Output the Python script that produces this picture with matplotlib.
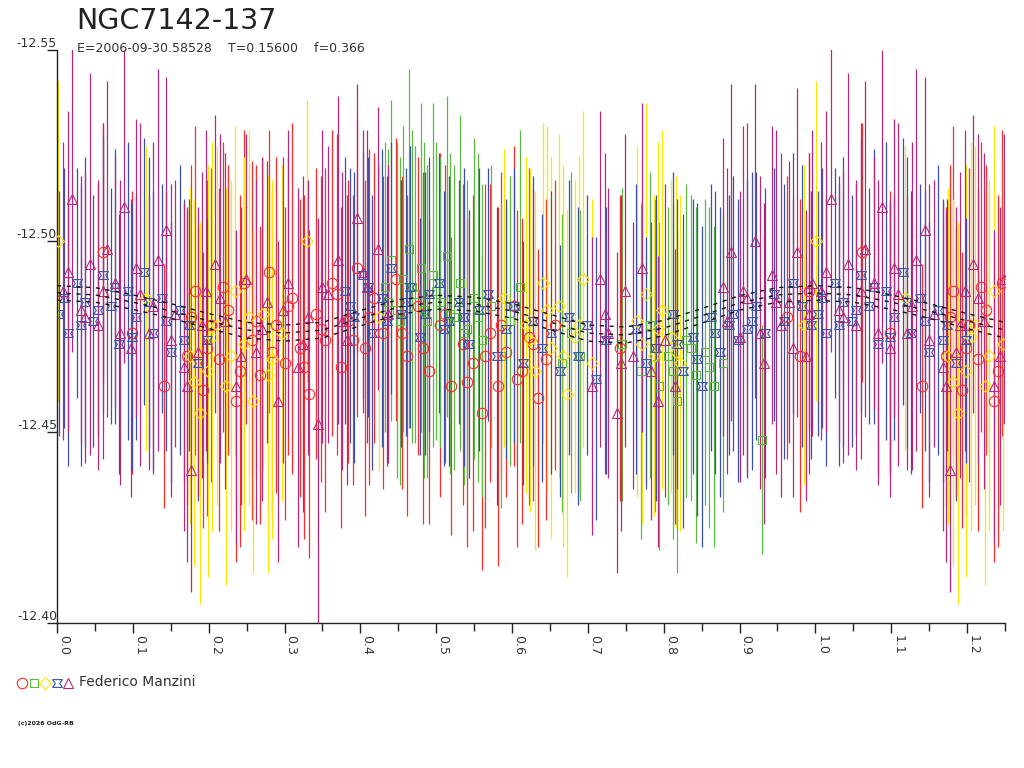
import numpy as np
import matplotlib.pyplot as plt
from matplotlib.ticker import MultipleLocator, FormatStrFormatter

# phase, magnitude, error for each observing series
red_ph = [0.061, 0.099, 0.141, 0.172, 0.182, 0.193, 0.203, 0.214, 0.225, 0.236, 0.246, 0.257, 0.268,
          0.279, 0.289, 0.300, 0.310, 0.321, 0.332, 0.342, 0.353, 0.363, 0.374, 0.384, 0.395, 0.406,
          0.418, 0.430, 0.447, 0.462, 0.476, 0.491, 0.505, 0.520, 0.535, 0.548, 0.560, 0.571, 0.581,
          0.592, 0.602, 0.613, 0.623, 0.634, 0.645, 0.657, 0.742, 0.963, 0.980, 0.992,
          0.177, 0.198, 0.219, 0.241, 0.262, 0.284, 0.305, 0.326, 0.348, 0.369, 0.390, 0.412, 0.455,
          0.483, 0.512, 0.541, 0.565, 0.586, 0.607, 0.628]
red_mag = [-12.497, -12.476, -12.462, -12.470, -12.487, -12.461, -12.478, -12.469, -12.482, -12.458,
           -12.489, -12.474, -12.465, -12.492, -12.478, -12.468, -12.485, -12.472, -12.460, -12.481,
           -12.474, -12.489, -12.467, -12.479, -12.493, -12.472, -12.485, -12.476, -12.490, -12.470,
           -12.483, -12.466, -12.478, -12.462, -12.473, -12.468, -12.455, -12.476, -12.462, -12.471,
           -12.483, -12.466, -12.475, -12.459, -12.469, -12.478, -12.472, -12.480, -12.470, -12.487,
           -12.480, -12.472, -12.488, -12.466, -12.479, -12.471, -12.483, -12.467, -12.477, -12.486,
           -12.474, -12.480, -12.476, -12.472, -12.481, -12.463, -12.470, -12.478, -12.464, -12.473]
red_err = [0.034, 0.037, 0.032, 0.039, 0.043, 0.036, 0.041, 0.045, 0.038, 0.042, 0.040, 0.047, 0.039,
           0.037, 0.044, 0.041, 0.046, 0.039, 0.043, 0.038, 0.045, 0.040, 0.042, 0.037, 0.039, 0.044,
           0.038, 0.041, 0.037, 0.042, 0.039, 0.040, 0.045, 0.039, 0.042, 0.044, 0.041, 0.039, 0.047,
           0.038, 0.042, 0.040, 0.044, 0.039, 0.042, 0.038, 0.040, 0.037, 0.041, 0.036,
           0.040, 0.044, 0.038, 0.046, 0.041, 0.043, 0.039, 0.045, 0.040, 0.042, 0.038, 0.044, 0.041,
           0.046, 0.039, 0.043, 0.045, 0.040, 0.044, 0.041]

green_ph = [0.432, 0.440, 0.448, 0.456, 0.464, 0.472, 0.480, 0.488, 0.496, 0.505, 0.514, 0.523, 0.532,
            0.541, 0.550, 0.560, 0.572, 0.585, 0.597, 0.610, 0.666, 0.678, 0.690, 0.745, 0.770, 0.782,
            0.794, 0.806, 0.818, 0.830, 0.842, 0.854, 0.866, 0.878, 0.930,
            0.436, 0.452, 0.468, 0.484, 0.500, 0.518, 0.536, 0.555, 0.788, 0.812, 0.836, 0.860]
green_mag = [-12.488, -12.495, -12.482, -12.490, -12.498, -12.486, -12.493, -12.479, -12.491, -12.484,
             -12.496, -12.480, -12.489, -12.477, -12.485, -12.474, -12.483, -12.470, -12.479, -12.488,
             -12.468, -12.476, -12.470, -12.473, -12.466, -12.478, -12.462, -12.470, -12.458, -12.474,
             -12.465, -12.471, -12.462, -12.468, -12.448,
             -12.484, -12.479, -12.488, -12.482, -12.487, -12.481, -12.476, -12.480, -12.470, -12.466,
             -12.472, -12.467]
green_err = [0.038, 0.042, 0.044, 0.040, 0.047, 0.039, 0.043, 0.041, 0.045, 0.038, 0.042, 0.040, 0.044,
             0.039, 0.042, 0.041, 0.037, 0.040, 0.038, 0.041, 0.039, 0.042, 0.038, 0.041, 0.044, 0.040,
             0.043, 0.039, 0.045, 0.041, 0.044, 0.040, 0.042, 0.039, 0.030,
             0.040, 0.043, 0.041, 0.044, 0.039, 0.042, 0.040, 0.043, 0.041, 0.044, 0.040, 0.042]

yellow_ph = [0.001, 0.118, 0.175, 0.188, 0.199, 0.211, 0.223, 0.235, 0.247, 0.259, 0.271, 0.284, 0.297,
             0.330, 0.425, 0.590, 0.618, 0.630, 0.641, 0.652, 0.662, 0.672, 0.683, 0.694, 0.705, 0.765,
             0.776, 0.787, 0.798, 0.810, 0.822, 0.985,
             0.181, 0.205, 0.229, 0.253, 0.278, 0.624, 0.646, 0.667, 0.688, 0.771, 0.792, 0.816]
yellow_mag = [-12.500, -12.485, -12.470, -12.455, -12.466, -12.478, -12.462, -12.487, -12.473, -12.458,
              -12.481, -12.469, -12.476, -12.500, -12.480, -12.485, -12.478, -12.466, -12.489, -12.472,
              -12.483, -12.460, -12.475, -12.490, -12.468, -12.479, -12.486, -12.470, -12.482, -12.475,
              -12.468, -12.478,
              -12.463, -12.475, -12.470, -12.480, -12.465, -12.474, -12.482, -12.470, -12.478, -12.473,
              -12.477, -12.471]
yellow_err = [0.042, 0.040, 0.044, 0.050, 0.054, 0.047, 0.052, 0.043, 0.049, 0.045, 0.041, 0.047, 0.044,
              0.037, 0.040, 0.039, 0.044, 0.047, 0.042, 0.050, 0.045, 0.048, 0.041, 0.044, 0.043, 0.046,
              0.050, 0.042, 0.047, 0.041, 0.044, 0.042,
              0.048, 0.051, 0.046, 0.049, 0.052, 0.045, 0.048, 0.050, 0.044, 0.047, 0.049, 0.046]

blue_ph = [0.003, 0.014, 0.026, 0.037, 0.048, 0.060, 0.071, 0.082, 0.093, 0.104, 0.115, 0.126, 0.138,
           0.150, 0.162, 0.174, 0.186, 0.198, 0.380, 0.392, 0.404, 0.416, 0.428, 0.441, 0.453, 0.466,
           0.479, 0.491, 0.504, 0.517, 0.530, 0.543, 0.556, 0.568, 0.580, 0.592, 0.603, 0.615, 0.627,
           0.639, 0.651, 0.663, 0.675, 0.687, 0.699, 0.711, 0.724, 0.763, 0.776, 0.790, 0.812, 0.826,
           0.838, 0.850, 0.862, 0.874, 0.886, 0.898, 0.910, 0.922, 0.934, 0.946, 0.958, 0.970, 0.982,
           0.994,
           0.009, 0.031, 0.054, 0.077, 0.099, 0.121, 0.144, 0.168, 0.386, 0.410, 0.435, 0.460, 0.485,
           0.510, 0.536, 0.818, 0.844, 0.868, 0.892, 0.916]
blue_mag = [-12.481, -12.476, -12.489, -12.484, -12.479, -12.491, -12.483, -12.473, -12.487, -12.480,
            -12.492, -12.476, -12.485, -12.471, -12.482, -12.478, -12.468, -12.474, -12.487, -12.480,
            -12.491, -12.476, -12.485, -12.493, -12.481, -12.488, -12.475, -12.486, -12.489, -12.479,
            -12.484, -12.473, -12.482, -12.486, -12.470, -12.477, -12.483, -12.468, -12.479, -12.472,
            -12.476, -12.466, -12.480, -12.470, -12.478, -12.464, -12.474, -12.477, -12.468, -12.472,
            -12.481, -12.466, -12.475, -12.462, -12.480, -12.471, -12.478, -12.474, -12.477, -12.483,
            -12.476, -12.486, -12.479, -12.489, -12.483, -12.478,
            -12.485, -12.478, -12.482, -12.488, -12.475, -12.484, -12.479, -12.474, -12.483, -12.488,
            -12.479, -12.484, -12.481, -12.477, -12.480, -12.473, -12.469, -12.476, -12.481, -12.479]
blue_err = [0.032, 0.035, 0.030, 0.038, 0.033, 0.036, 0.031, 0.034, 0.039, 0.032, 0.035, 0.037, 0.030,
            0.034, 0.038, 0.033, 0.036, 0.032, 0.035, 0.038, 0.032, 0.036, 0.039, 0.033, 0.035, 0.037,
            0.031, 0.036, 0.034, 0.038, 0.032, 0.035, 0.037, 0.033, 0.039, 0.034, 0.036, 0.032, 0.038,
            0.035, 0.037, 0.033, 0.036, 0.039, 0.034, 0.037, 0.035, 0.038, 0.033, 0.040, 0.037, 0.041,
            0.036, 0.042, 0.035, 0.038, 0.034, 0.037, 0.039, 0.035, 0.038, 0.033, 0.036, 0.034, 0.037,
            0.035,
            0.034, 0.037, 0.033, 0.036, 0.035, 0.038, 0.034, 0.037, 0.036, 0.034, 0.038, 0.035, 0.037,
            0.036, 0.039, 0.038, 0.041, 0.037, 0.036, 0.039]

mag_ph = [0.008, 0.020, 0.031, 0.043, 0.054, 0.066, 0.077, 0.088, 0.098, 0.109, 0.121, 0.133, 0.144,
          0.156, 0.168, 0.177, 0.186, 0.197, 0.208, 0.222, 0.236, 0.249, 0.263, 0.277, 0.291, 0.305,
          0.318, 0.331, 0.344, 0.357, 0.370, 0.383, 0.396, 0.409, 0.423, 0.437, 0.705, 0.716, 0.727,
          0.738, 0.749, 0.760, 0.771, 0.783, 0.792, 0.802, 0.815, 0.878, 0.889, 0.900, 0.910, 0.921,
          0.932, 0.943, 0.954, 0.965, 0.976, 0.987, 0.996,
          0.014, 0.037, 0.060, 0.083, 0.104, 0.127, 0.150, 0.172, 0.191, 0.215, 0.243, 0.270, 0.298,
          0.325, 0.350, 0.376, 0.403, 0.722, 0.744, 0.884, 0.905, 0.927, 0.948, 0.971, 0.992]
mag_mag = [-12.487, -12.511, -12.482, -12.494, -12.478, -12.498, -12.489, -12.509, -12.472, -12.486,
           -12.476, -12.495, -12.503, -12.481, -12.467, -12.440, -12.471, -12.487, -12.494, -12.479,
           -12.462, -12.490, -12.471, -12.484, -12.458, -12.489, -12.467, -12.480, -12.452, -12.486,
           -12.495, -12.474, -12.506, -12.488, -12.498, -12.481, -12.462, -12.490, -12.476, -12.455,
           -12.487, -12.470, -12.493, -12.466, -12.458, -12.474, -12.462, -12.488, -12.497, -12.475,
           -12.485, -12.500, -12.468, -12.491, -12.478, -12.484, -12.497, -12.470, -12.489,
           -12.492, -12.480, -12.487, -12.476, -12.493, -12.483, -12.474, -12.462, -12.478, -12.485,
           -12.470, -12.477, -12.482, -12.473, -12.488, -12.479, -12.492, -12.481, -12.468, -12.479,
           -12.487, -12.476, -12.484, -12.472, -12.481]
mag_err = [0.039, 0.040, 0.035, 0.050, 0.038, 0.044, 0.033, 0.041, 0.039, 0.045, 0.036, 0.050, 0.040,
           0.035, 0.043, 0.032, 0.038, 0.042, 0.039, 0.044, 0.041, 0.038, 0.045, 0.037, 0.042, 0.040,
           0.047, 0.036, 0.054, 0.039, 0.043, 0.038, 0.035, 0.041, 0.037, 0.039, 0.039, 0.044, 0.038,
           0.042, 0.041, 0.035, 0.043, 0.039, 0.038, 0.041, 0.036, 0.039, 0.044, 0.038, 0.046, 0.041,
           0.042, 0.039, 0.045, 0.037, 0.043, 0.038, 0.040,
           0.042, 0.038, 0.044, 0.040, 0.039, 0.043, 0.041, 0.046, 0.040, 0.043, 0.039, 0.045, 0.040,
           0.044, 0.041, 0.039, 0.037, 0.042, 0.044, 0.040, 0.043, 0.041, 0.045, 0.039, 0.042]

# fitted curves (centre and the two bounding curves)
fit_ph = [0.00, 0.05, 0.10, 0.15, 0.20, 0.25, 0.30, 0.35, 0.40, 0.45, 0.50, 0.55, 0.60, 0.65, 0.70,
          0.75, 0.80, 0.85, 0.90, 0.95, 1.00, 1.05, 1.10, 1.15, 1.20, 1.25]
fit_mid = [-12.4864, -12.4859, -12.4840, -12.4817, -12.4791, -12.4767, -12.4759, -12.4767, -12.4798,
           -12.4827, -12.4840, -12.4835, -12.4817, -12.4788, -12.4759, -12.4754, -12.4772, -12.4804,
           -12.4838, -12.4859, -12.4864, -12.4859, -12.4840, -12.4817, -12.4791, -12.4767]
fit_up = [-12.4883, -12.4878, -12.4859, -12.4836, -12.4810, -12.4787, -12.4780, -12.4787, -12.4818,
          -12.4846, -12.4858, -12.4853, -12.4836, -12.4808, -12.4780, -12.4775, -12.4792, -12.4823,
          -12.4857, -12.4878, -12.4883, -12.4878, -12.4859, -12.4836, -12.4810, -12.4787]
fit_low = [-12.4845, -12.4840, -12.4821, -12.4798, -12.4771, -12.4746, -12.4738, -12.4746, -12.4778,
           -12.4808, -12.4822, -12.4817, -12.4798, -12.4768, -12.4738, -12.4733, -12.4752, -12.4785,
           -12.4819, -12.4840, -12.4845, -12.4840, -12.4821, -12.4798, -12.4771, -12.4746]

bowtie = [(-1, 0.8), (1, 0.8), (0.45, 0), (1, -0.8), (-1, -0.8), (-0.45, 0), (-1, 0.8)]

series = [
    (red_ph, red_mag, red_err, '#ff2a2a', 'o', 7.5),
    (green_ph, green_mag, green_err, '#5cb840', 's', 6),
    (yellow_ph, yellow_mag, yellow_err, '#ffe600', 'D', 6),
    (blue_ph, blue_mag, blue_err, '#3a4fa8', bowtie, 7),
    (mag_ph, mag_mag, mag_err, '#b8287a', '^', 6.5),
]

fig = plt.figure(figsize=(10.24, 7.68), dpi=100)
ax = fig.add_axes([57 / 1024, 1 - 623 / 768, 948 / 1024, 573 / 768])

for ph, m, e, col, mk, ms in series:
    ph = np.array(ph)
    m = np.array(m)
    e = np.array(e)
    wrap = ph < 0.25
    ph = np.concatenate([ph, ph[wrap] + 1])
    m = np.concatenate([m, m[wrap]])
    e = np.concatenate([e, e[wrap]])
    ax.errorbar(ph, m, yerr=e, fmt='none', ecolor=col, elinewidth=0.9, capsize=0, zorder=2)
    ax.plot(ph, m, linestyle='none', marker=mk, ms=ms, mfc='none', mec=col, mew=0.8, zorder=3)

for fy in (fit_up, fit_mid, fit_low):
    ax.plot(fit_ph, fy, color='#111111', lw=1.0, ls=(0, (3, 4)), zorder=4)

ax.set_xlim(0, 1.25)
ax.set_ylim(-12.40, -12.55)
ax.set_yticks([-12.55, -12.50, -12.45, -12.40])
ax.yaxis.set_major_formatter(FormatStrFormatter('%.2f'))
ax.xaxis.set_major_locator(MultipleLocator(0.1))
ax.xaxis.set_minor_locator(MultipleLocator(0.05))
ax.xaxis.set_major_formatter(FormatStrFormatter('%.1f'))

for s in ('top', 'right'):
    ax.spines[s].set_visible(False)
for s in ('left', 'bottom'):
    ax.spines[s].set_color('#222222')
    ax.spines[s].set_linewidth(1.0)

ax.tick_params(axis='y', length=7, width=1, color='#222222', pad=-7, labelsize=9, labelcolor='#333333')
ax.tick_params(axis='x', which='major', length=7.5, width=1, color='#222222', pad=1,
               labelsize=9, labelcolor='#333333', labelrotation=270)
ax.tick_params(axis='x', which='minor', length=6, width=1, color='#222222')
for lab in ax.get_yticklabels():
    lab.set_verticalalignment('bottom')
    lab.set_horizontalalignment('right')
for lab in ax.get_xticklabels():
    lab.set_horizontalalignment('left')
    lab.set_verticalalignment('top')

# title block, legend row and footer in pixel coordinates
ov = fig.add_axes([0, 0, 1, 1], facecolor='none')
ov.set_xlim(0, 1024)
ov.set_ylim(768, 0)
ov.axis('off')
ov.text(76, 29, 'NGC7142-137', fontsize=20.5, color='#222222', va='baseline', ha='left')
ov.text(77, 52, 'E=2006-09-30.58528    T=0.15600    f=0.366', fontsize=9, color='#333333',
        va='baseline', ha='left')

leg_x = [22, 34, 45, 57, 68]
for (ph, m, e, col, mk, ms), lx in zip(series, leg_x):
    ov.plot([lx], [683], linestyle='none', marker=mk, ms=ms, mfc='none', mec=col, mew=0.8)
ov.text(79, 682, 'Federico Manzini', fontsize=10, color='#333333', va='center', ha='left')
ov.text(18, 724, '(c)2026 OdG-RB', fontsize=4.5, color='#222222', va='center', ha='left',
        fontweight='bold')

fig.savefig('out.png', dpi=100)
